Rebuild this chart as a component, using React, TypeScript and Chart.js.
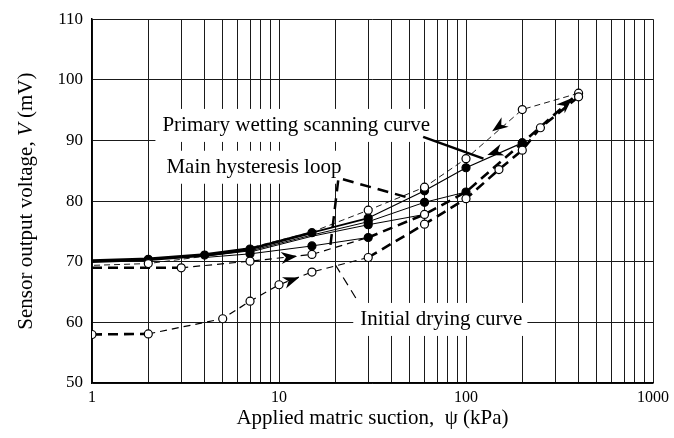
import React, { useEffect, useRef } from "react";
import { Chart, registerables } from "chart.js";

Chart.register(...registerables);

const FONT = '"Liberation Serif", "Times New Roman", serif';

// Axis ticks
const X_GRID = [1, 2, 3, 4, 5, 6, 7, 8, 9, 10, 20, 30, 40, 50, 60, 70, 80, 90, 100, 200, 300, 400, 500, 600, 700, 800, 900, 1000];
const X_LABELS = [1, 10, 100, 1000];
const Y_TICKS = [50, 60, 70, 80, 90, 100, 110];

// Initial drying curve (open circles, dashed)
const INIT_DRY_X = [1, 2, 5, 7, 10, 15, 30, 60, 100, 150, 200, 250, 400];
const INIT_DRY_Y = [58.0, 58.1, 60.6, 63.5, 66.2, 68.3, 70.7, 76.2, 80.4, 85.2, 88.4, 92.1, 97.2];
const INIT_DRY_MARK = ["o", "o", "o", "o", "o", "o", "o", "o", "o", "o", "o", "o", "o"];

// Main drying curve (dashed)
const MAIN_DRY_X = [1, 3, 7, 15, 30, 60, 100, 200, 400];
const MAIN_DRY_Y = [69.0, 69.0, 70.1, 71.2, 74.0, 77.8, 81.5, 89.6, 97.8];
const MAIN_DRY_MARK = ["-", "o", "o", "o", "f", "o", "f", "f", "o"];

// Main wetting curve (thin dashed, open circles)
const MAIN_WET_X = [400, 200, 100, 60, 30, 15, 7, 4, 2, 1];
const MAIN_WET_Y = [97.8, 95.1, 87.0, 82.3, 78.5, 74.9, 72.3, 70.9, 69.7, 69.4];
const MAIN_WET_MARK = ["-", "o", "o", "o", "o", "-", "-", "-", "o", "-"];

// Primary wetting scanning curve (solid, filled circles)
const PRIM_WET_X = [200, 100, 60, 30, 15, 7, 4, 2, 1];
const PRIM_WET_Y = [89.6, 85.5, 81.7, 77.2, 74.8, 72.1, 71.1, 70.4, 70.1];
const PRIM_WET_MARK = ["f", "f", "f", "f", "f", "f", "f", "f", "-"];

// Other scanning curves (thin solid)
const SCAN_A_X = [100, 60, 30, 15, 7, 4];
const SCAN_A_Y = [81.5, 79.8, 76.6, 74.4, 71.8, 70.9];
const SCAN_A_MARK = ["-", "f", "f", "-", "f", "-"];

const SCAN_B_X = [60, 30, 15, 7];
const SCAN_B_Y = [77.8, 76.1, 74.2, 71.6];
const SCAN_B_MARK = ["-", "f", "-", "-"];

const SCAN_C_X = [30, 15, 7, 4];
const SCAN_C_Y = [74.0, 72.6, 71.3, 70.7];
const SCAN_C_MARK = ["-", "f", "f", "-"];

// Annotation labels
const LABEL_TEXTS = ["Primary wetting scanning curve", "Main hysteresis loop", "Initial drying curve"];
const LABEL_X = [2.38, 2.5, 27.2];
const LABEL_Y = [92.4, 85.5, 60.4];

// Leader lines
const LEAD_PRIM_X = [59, 124];
const LEAD_PRIM_Y = [90.6, 87.0];
const LEAD_MAIN_X = [47.5, 20.8, 18.8];
const LEAD_MAIN_Y = [80.7, 83.8, 72.5];
const LEAD_INIT_X = [20, 26.5];
const LEAD_INIT_Y = [69.5, 63.4];

// Arrow heads: from -> tip
const ARROW_FROM_X = [7, 10, 200, 200, 250];
const ARROW_FROM_Y = [70.1, 66.2, 95.1, 89.6, 92.1];
const ARROW_TIP_X = [12.5, 12.8, 138, 130, 370];
const ARROW_TIP_Y = [70.9, 67.4, 91.5, 87.6, 97.0];

function pts(xs: number[], ys: number[]) {
  return xs.map((x, i) => ({ x, y: ys[i] }));
}
function radii(marks: string[]) {
  return marks.map((m) => (m === "-" ? 0 : 4));
}
function fills(marks: string[]) {
  return marks.map((m) => (m === "f" ? "#000" : "#fff"));
}

function series(xs: number[], ys: number[], marks: string[], extra: any) {
  return {
    data: pts(xs, ys),
    showLine: true,
    borderColor: "#000",
    borderWidth: 1,
    pointRadius: radii(marks),
    pointBackgroundColor: fills(marks),
    pointBorderColor: "#000",
    pointBorderWidth: 1.2,
    pointHoverRadius: radii(marks),
    tension: 0,
    ...extra,
  };
}

const annotationPlugin = {
  id: "annot",
  beforeDatasetsDraw(chart: any) {
    const { ctx, scales } = chart;
    const xs = scales.x;
    const ys = scales.y;
    ctx.save();
    ctx.font = `21px ${FONT}`;
    ctx.textBaseline = "middle";
    ctx.textAlign = "left";
    LABEL_TEXTS.forEach((t, i) => {
      const px = xs.getPixelForValue(LABEL_X[i]);
      const py = ys.getPixelForValue(LABEL_Y[i]);
      const w = ctx.measureText(t).width;
      ctx.fillStyle = "#fff";
      ctx.fillRect(px - 7, py - 17, w + 12, 33);
    });
    ctx.fillStyle = "#000";
    LABEL_TEXTS.forEach((t, i) => {
      const px = xs.getPixelForValue(LABEL_X[i]);
      const py = ys.getPixelForValue(LABEL_Y[i]);
      ctx.fillText(t, px, py);
    });
    ctx.restore();
  },
  afterDatasetsDraw(chart: any) {
    const { ctx, scales } = chart;
    const xs = scales.x;
    const ys = scales.y;
    const poly = (X: number[], Y: number[], w: number, dash: number[]) => {
      ctx.save();
      ctx.strokeStyle = "#000";
      ctx.lineWidth = w;
      ctx.setLineDash(dash);
      ctx.beginPath();
      X.forEach((x, i) => {
        const px = xs.getPixelForValue(x);
        const py = ys.getPixelForValue(Y[i]);
        if (i === 0) ctx.moveTo(px, py);
        else ctx.lineTo(px, py);
      });
      ctx.stroke();
      ctx.restore();
    };
    poly(LEAD_PRIM_X, LEAD_PRIM_Y, 2.5, []);
    poly(LEAD_MAIN_X, LEAD_MAIN_Y, 2.5, [11, 7]);
    poly(LEAD_INIT_X, LEAD_INIT_Y, 1.2, [9, 6]);

    ctx.save();
    ctx.fillStyle = "#000";
    ARROW_TIP_X.forEach((tx, i) => {
      const x0 = xs.getPixelForValue(ARROW_FROM_X[i]);
      const y0 = ys.getPixelForValue(ARROW_FROM_Y[i]);
      const x1 = xs.getPixelForValue(tx);
      const y1 = ys.getPixelForValue(ARROW_TIP_Y[i]);
      const a = Math.atan2(y1 - y0, x1 - x0);
      const L = 16;
      const W = 6;
      ctx.save();
      ctx.translate(x1, y1);
      ctx.rotate(a);
      ctx.beginPath();
      ctx.moveTo(0, 0);
      ctx.lineTo(-L, -W);
      ctx.lineTo(-L * 0.7, 0);
      ctx.lineTo(-L, W);
      ctx.closePath();
      ctx.fill();
      ctx.restore();
    });
    ctx.restore();
  },
  afterDraw(chart: any) {
    const { ctx, chartArea } = chart;
    ctx.save();
    ctx.fillStyle = "#000";
    ctx.font = `21px ${FONT}`;
    ctx.textAlign = "center";
    ctx.textBaseline = "middle";
    ctx.fillText("Applied matric suction,  \u03c8 (kPa)", (chartArea.left + chartArea.right) / 2, 418);
    // Y title with italic V
    ctx.translate(26, (chartArea.top + chartArea.bottom) / 2);
    ctx.rotate(-Math.PI / 2);
    const p1 = "Sensor output voltage, ";
    const p2 = "V";
    const p3 = " (mV)";
    ctx.font = `21px ${FONT}`;
    const w1 = ctx.measureText(p1).width;
    const w3 = ctx.measureText(p3).width;
    ctx.font = `italic 21px ${FONT}`;
    const w2 = ctx.measureText(p2).width;
    const total = w1 + w2 + w3;
    let x = -total / 2;
    ctx.textAlign = "left";
    ctx.font = `21px ${FONT}`;
    ctx.fillText(p1, x, 0);
    x += w1;
    ctx.font = `italic 21px ${FONT}`;
    ctx.fillText(p2, x, 0);
    x += w2;
    ctx.font = `21px ${FONT}`;
    ctx.fillText(p3, x, 0);
    ctx.restore();
  },
};

export default function App() {
  const ref = useRef<HTMLCanvasElement | null>(null);
  useEffect(() => {
    document.body.style.margin = "0";
    const canvas = ref.current;
    if (!canvas) return;
    const chart = new Chart(canvas, {
      type: "scatter",
      data: {
        datasets: [
          series(INIT_DRY_X, INIT_DRY_Y, INIT_DRY_MARK, {
            segment: {
              borderWidth: (c: any) => (c.p0DataIndex === 0 || c.p0DataIndex >= 6 ? 2.6 : 1.2),
              borderDash: (c: any) => (c.p0DataIndex === 0 || c.p0DataIndex >= 6 ? [10, 6] : [7, 5]),
            },
          }),
          series(MAIN_WET_X, MAIN_WET_Y, MAIN_WET_MARK, { borderWidth: 0.9, borderDash: [6, 4] }),
          series(MAIN_DRY_X, MAIN_DRY_Y, MAIN_DRY_MARK, {
            segment: {
              borderWidth: (c: any) => (c.p0DataIndex === 0 || c.p0DataIndex >= 4 ? 2.6 : 1.2),
              borderDash: (c: any) => (c.p0DataIndex === 0 || c.p0DataIndex >= 4 ? [10, 6] : [7, 5]),
            },
          }),
          series(PRIM_WET_X, PRIM_WET_Y, PRIM_WET_MARK, {
            segment: {
              borderWidth: (c: any) => (c.p0DataIndex >= 5 ? 3.6 : c.p0DataIndex === 4 ? 2.6 : c.p0DataIndex === 3 ? 1.8 : 1.2),
            },
          }),
          series(SCAN_A_X, SCAN_A_Y, SCAN_A_MARK, {}),
          series(SCAN_B_X, SCAN_B_Y, SCAN_B_MARK, {}),
          series(SCAN_C_X, SCAN_C_Y, SCAN_C_MARK, {}),
        ],
      },
      options: {
        animation: false,
        responsive: false,
        events: [],
        layout: { padding: { top: 19, right: 18, left: 0, bottom: 0 } },
        plugins: { legend: { display: false }, tooltip: { enabled: false } },
        scales: {
          x: {
            type: "logarithmic",
            min: 1,
            max: 1000,
            afterBuildTicks: (scale: any) => {
              scale.ticks = X_GRID.map((v) => ({ value: v }));
            },
            afterFit: (scale: any) => {
              scale.height = 55;
            },
            ticks: {
              autoSkip: false,
              maxRotation: 0,
              minRotation: 0,
              padding: 5,
              color: "#000",
              font: { family: FONT, size: 16 },
              callback: (v: any) => (X_LABELS.includes(Number(v)) ? String(v) : ""),
            },
            grid: { color: "#1a1a1a", lineWidth: 1, drawTicks: false },
            border: { display: true, color: "#000", width: 1.5 },
          },
          y: {
            min: 50,
            max: 110,
            afterBuildTicks: (scale: any) => {
              scale.ticks = Y_TICKS.map((v) => ({ value: v }));
            },
            afterFit: (scale: any) => {
              scale.width = 92;
            },
            ticks: {
              padding: 9,
              color: "#000",
              font: { family: FONT, size: 17 },
            },
            grid: { color: "#1a1a1a", lineWidth: 1, drawTicks: false },
            border: { display: true, color: "#000", width: 1.5 },
          },
        },
      },
      plugins: [annotationPlugin],
    } as any);
    return () => chart.destroy();
  }, []);
  return (
    <div style={{ position: "fixed", left: 0, top: 0, width: 674, height: 438, background: "#fff" }}>
      <canvas ref={ref} width={674} height={438} />
    </div>
  );
}
